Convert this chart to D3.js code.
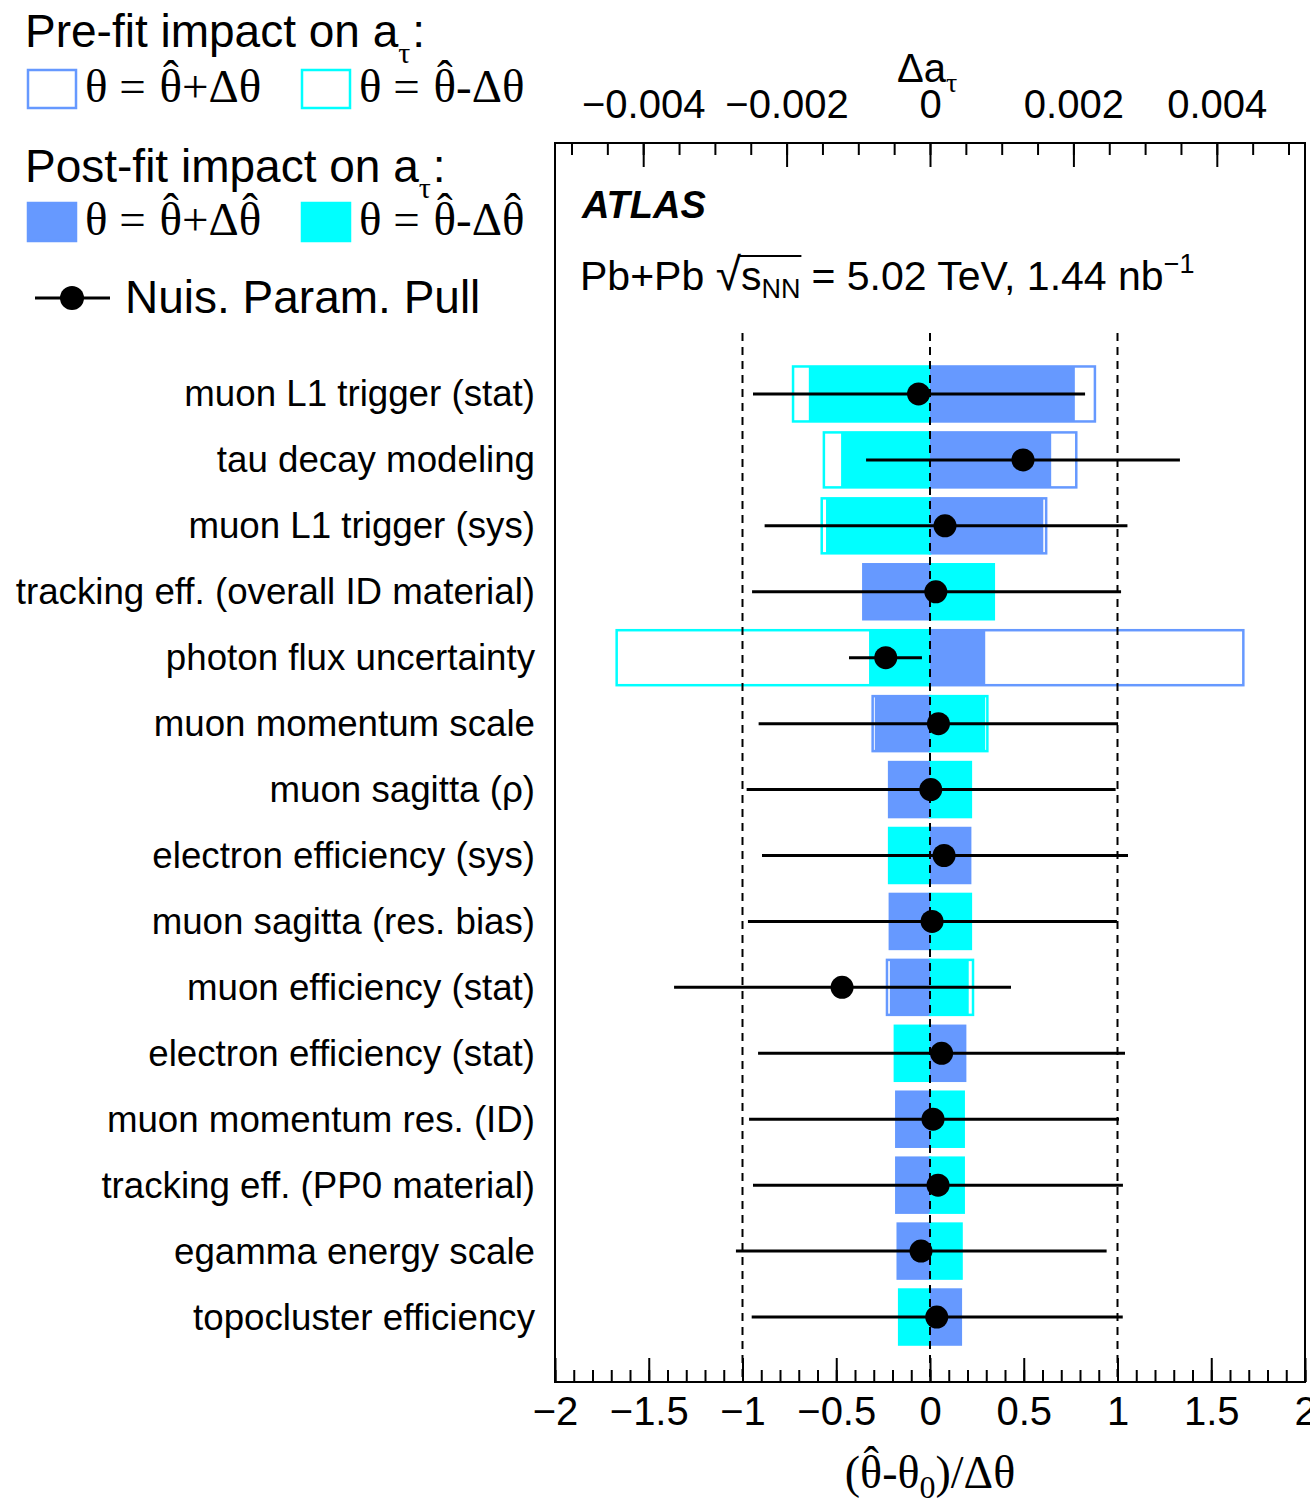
<!DOCTYPE html>
<html>
<head>
<meta charset="utf-8">
<script src="https://cdn.jsdelivr.net/npm/d3@7"></script>
<style>
body { margin: 0; background: #fff; }
svg  { display: block; }
svg text { white-space: pre; }
</style>
</head>
<body>
<svg id="chart" width="1310" height="1500"></svg>
<script>
"use strict"

// nuisance parameters, top to bottom
var labels = [
    "muon L1 trigger (stat)",
    "tau decay modeling",
    "muon L1 trigger (sys)",
    "tracking eff. (overall ID material)",
    "photon flux uncertainty",
    "muon momentum scale",
    "muon sagitta (\u03c1)",
    "electron efficiency (sys)",
    "muon sagitta (res. bias)",
    "muon efficiency (stat)",
    "electron efficiency (stat)",
    "muon momentum res. (ID)",
    "tracking eff. (PP0 material)",
    "egamma energy scale",
    "topocluster efficiency"
];

// impact on a_tau
var preUp    = [ 0.00230,  0.00204,  0.00162, -0.00093,  0.00437, -0.00080, -0.00057,  0.00056, -0.00056, -0.00060,  0.00049, -0.00047, -0.00047, -0.00045,  0.00043];
var preDown  = [-0.00191, -0.00148, -0.00151,  0.00089, -0.00437,  0.00080,  0.00057, -0.00057,  0.00057,  0.00060, -0.00049,  0.00047,  0.00047,  0.00044, -0.00043];
var postUp   = [ 0.00202,  0.00169,  0.00158, -0.00093,  0.00077, -0.00077, -0.00057,  0.00056, -0.00056, -0.00056,  0.00049, -0.00047, -0.00047, -0.00045,  0.00043];
var postDown = [-0.00169, -0.00124, -0.00145,  0.00089, -0.00085,  0.00077,  0.00057, -0.00057,  0.00057,  0.00054, -0.00049,  0.00047,  0.00047,  0.00044, -0.00043];

// pulls
var pullVal   = [-0.061, 0.496, 0.080, 0.031, -0.236, 0.045, 0.004, 0.075, 0.011, -0.469, 0.062, 0.016, 0.043, -0.048, 0.036];
var pullErrLo = [ 0.883, 0.837, 0.962, 0.980,  0.196, 0.959, 0.982, 0.971, 0.982,  0.896, 0.979, 0.981, 0.987,  0.987, 0.987];
var pullErrHi = [ 0.888, 0.837, 0.973, 0.988,  0.193, 0.958, 0.986, 0.981, 0.986,  0.901, 0.978, 0.992, 0.986,  0.990, 0.992];

var bottomLabelVals = [-2, -1.5, -1, -0.5, 0, 0.5, 1, 1.5, 2];
var bottomLabels    = ["\u22122", "\u22121.5", "\u22121", "\u22120.5", "0", "0.5", "1", "1.5", "2"];
var topLabelVals    = [-0.004, -0.002, 0, 0.002, 0.004];
var topLabels       = ["\u22120.004", "\u22120.002", "0", "0.002", "0.004"];
var guideVals       = [-1, 0, 1];

var blue  = "#6699ff";
var cyan  = "#00ffff";
var sans  = "'Liberation Sans', Arial, Helvetica, sans-serif";
var serif = "'Liberation Serif', 'Times New Roman', serif";

var frame = { left: 555, right: 1305, top: 143, bottom: 1382 };
var topLim = 0.00523;

var svg = d3.select("#chart");

var xBot = d3.scaleLinear().domain([-2, 2]).range([frame.left, frame.right]);
var xTop = d3.scaleLinear().domain([-topLim, topLim]).range([frame.left, frame.right]);
var y = d3.scaleBand().domain(labels).range([361, 1350])
    .paddingInner(0.166).paddingOuter(0.083);

// lays text pieces out one after the other
function richText(g, x0, y0, parts, anchor) {
    var grp = g.append("g");
    var cx = x0;
    parts.forEach(function(p) {
        var size = p.size || 45;
        var px = cx + (p.dx || 0);
        var py = y0 + (p.dy || 0);
        var t = grp.append("text")
            .attr("x", px)
            .attr("y", py)
            .style("font-family", p.serif ? serif : sans)
            .style("font-size", size + "px")
            .style("font-weight", p.bold ? "bold" : null)
            .style("font-style", p.italic ? "italic" : null)
            .text(p.text);
        var w = t.node().getComputedTextLength();
        if (p.hat)
            grp.append("text")
                .attr("x", px + w / 2)
                .attr("y", py - size * 0.2)
                .attr("text-anchor", "middle")
                .style("font-family", serif)
                .style("font-size", size + "px")
                .text("\u02c6");
        p.startX = px;
        cx = px + w + (p.after || 0);
        p.endX = cx;
    });
    if (anchor == "middle")
        grp.attr("transform", "translate(" + (-(cx - x0) / 2) + ",0)");
    return cx;
}

// ---- pre-fit outlines, post-fit fills
var rows = labels.map(function(l, i) { return i; });
var plot = svg.append("g");

function drawBars(cls, vals, color, filled) {
    plot.selectAll("rect." + cls).data(rows).enter()
        .append("rect")
        .attr("class", cls)
        .attr("x", i => Math.min(xTop(0), xTop(vals[i])))
        .attr("y", i => y(labels[i]))
        .attr("width", i => Math.abs(xTop(vals[i]) - xTop(0)))
        .attr("height", y.bandwidth())
        .style("fill", filled ? color : "#fff")
        .style("stroke", filled ? "none" : color)
        .style("stroke-width", 2.5);
}
drawBars("pre-up",    preUp,    blue, false);
drawBars("pre-down",  preDown,  cyan, false);
drawBars("post-up",   postUp,   blue, true);
drawBars("post-down", postDown, cyan, true);

// ---- dashed guides
plot.selectAll("line.guide").data(guideVals).enter()
    .append("line")
    .attr("class", "guide")
    .attr("x1", d => xBot(d)).attr("x2", d => xBot(d))
    .attr("y1", 333).attr("y2", frame.bottom)
    .style("stroke", "#000")
    .style("stroke-width", 2)
    .style("stroke-dasharray", "8,6");

// ---- pulls
plot.selectAll("line.pull").data(rows).enter()
    .append("line")
    .attr("class", "pull")
    .attr("x1", i => xBot(pullVal[i] - pullErrLo[i]))
    .attr("x2", i => xBot(pullVal[i] + pullErrHi[i]))
    .attr("y1", i => y(labels[i]) + y.bandwidth() / 2)
    .attr("y2", i => y(labels[i]) + y.bandwidth() / 2)
    .style("stroke", "#000")
    .style("stroke-width", 3);
plot.selectAll("circle.pull").data(rows).enter()
    .append("circle")
    .attr("class", "pull")
    .attr("cx", i => xBot(pullVal[i]))
    .attr("cy", i => y(labels[i]) + y.bandwidth() / 2)
    .attr("r", 11.5)
    .style("fill", "#000");

// ---- row labels
svg.selectAll("text.rowlabel").data(labels).enter()
    .append("text")
    .attr("class", "rowlabel")
    .attr("x", 535)
    .attr("y", d => y(d) + y.bandwidth() / 2)
    .attr("dy", "0.34em")
    .attr("text-anchor", "end")
    .style("font-family", sans)
    .style("font-size", "36.7px")
    .text(d => d);

// ---- frame
svg.append("rect")
    .attr("x", frame.left).attr("y", frame.top)
    .attr("width", frame.right - frame.left)
    .attr("height", frame.bottom - frame.top)
    .style("fill", "none")
    .style("stroke", "#000")
    .style("stroke-width", 2);

// ---- bottom axis
var botMinor = d3.range(-20, 21).map(d => d / 10);
svg.append("g")
    .attr("transform", "translate(0," + frame.bottom + ")")
    .call(d3.axisBottom(xBot).tickValues(botMinor).tickSize(-12).tickFormat(""))
    .call(g => g.select(".domain").remove());
svg.append("g")
    .attr("transform", "translate(0," + frame.bottom + ")")
    .call(d3.axisBottom(xBot).tickValues(bottomLabelVals).tickSize(-24).tickPadding(15)
        .tickFormat((d, i) => bottomLabels[i]))
    .call(g => g.select(".domain").remove())
    .call(g => g.selectAll("text").style("font-family", sans).style("font-size", "40px").style("fill", "#000"));

// ---- top axis
var topMinor = d3.range(-10, 11).map(d => d * 0.0005);
svg.append("g")
    .attr("transform", "translate(0," + frame.top + ")")
    .call(d3.axisTop(xTop).tickValues(topMinor).tickSize(-12).tickFormat(""))
    .call(g => g.select(".domain").remove());
svg.append("g")
    .attr("transform", "translate(0," + frame.top + ")")
    .call(d3.axisTop(xTop).tickValues(topLabelVals).tickSize(-24).tickPadding(25)
        .tickFormat((d, i) => topLabels[i]))
    .call(g => g.select(".domain").remove())
    .call(g => g.selectAll("text").style("font-family", sans).style("font-size", "40px").style("fill", "#000"));
svg.selectAll(".tick line").style("stroke", "#000").style("stroke-width", 2);

// top axis title
richText(svg, 897, 82, [
    { text: "\u0394a", size: 40 },
    { text: "\u03c4", size: 28, serif: true, dy: 10 }
]);

// bottom axis title
richText(svg, 930, 1488, [
    { text: "(", size: 46, serif: true },
    { text: "\u03b8", size: 46, serif: true, hat: true },
    { text: "-\u03b8", size: 46, serif: true },
    { text: "0", size: 32, serif: true, dy: 10 },
    { text: ")/\u0394\u03b8", size: 46, serif: true }
], "middle");

// ---- ATLAS label
richText(svg, 582, 218, [
    { text: "ATLAS", size: 38, bold: true, italic: true }
]);
var ecm = [
    { text: "Pb+Pb ", size: 41 },
    { text: "\u221a", size: 46 },
    { text: "s", size: 41 },
    { text: "NN", size: 27, dy: 8, after: 11 },
    { text: "= 5.02 TeV, 1.44 nb", size: 41 },
    { text: "\u22121", size: 27, dy: -17 }
];
richText(svg, 580, 290, ecm);
svg.append("line")
    .attr("x1", ecm[1].endX - 2).attr("x2", ecm[3].endX - 10)
    .attr("y1", 256).attr("y2", 256)
    .style("stroke", "#000").style("stroke-width", 2);

// ---- legend
var legend = svg.append("g");
richText(legend, 25, 47, [
    { text: "Pre-fit impact on a", size: 46 },
    { text: "\u03c4", size: 30, serif: true, dy: 16, after: 2 },
    { text: ":", size: 46 }
]);
richText(legend, 25, 182, [
    { text: "Post-fit impact on a", size: 46 },
    { text: "\u03c4", size: 30, serif: true, dy: 16, after: 2 },
    { text: ":", size: 46 }
]);

var legendBoxes = [
    { x: 28,  y: 70,  color: blue, filled: false, sign: "+", hatDelta: false },
    { x: 302, y: 70,  color: cyan, filled: false, sign: "-", hatDelta: false },
    { x: 28,  y: 203, color: blue, filled: true,  sign: "+", hatDelta: true },
    { x: 302, y: 203, color: cyan, filled: true,  sign: "-", hatDelta: true }
];
legendBoxes.forEach(function(b) {
    legend.append("rect")
        .attr("x", b.x).attr("y", b.y)
        .attr("width", 48).attr("height", 38)
        .style("fill", b.filled ? b.color : "#fff")
        .style("stroke", b.color)
        .style("stroke-width", 2.5);
    richText(legend, b.x + 57, b.y + 32, [
        { text: "\u03b8 = ", size: 47, serif: true, after: 2 },
        { text: "\u03b8", size: 47, serif: true, hat: true },
        { text: b.sign + "\u0394", size: 47, serif: true },
        { text: "\u03b8", size: 47, serif: true, hat: b.hatDelta }
    ]);
});

legend.append("line")
    .attr("x1", 35).attr("x2", 110)
    .attr("y1", 298).attr("y2", 298)
    .style("stroke", "#000").style("stroke-width", 3);
legend.append("circle")
    .attr("cx", 72).attr("cy", 298).attr("r", 12)
    .style("fill", "#000");
richText(legend, 125, 313, [
    { text: "Nuis. Param. Pull", size: 46 }
]);
</script>
</body>
</html>
